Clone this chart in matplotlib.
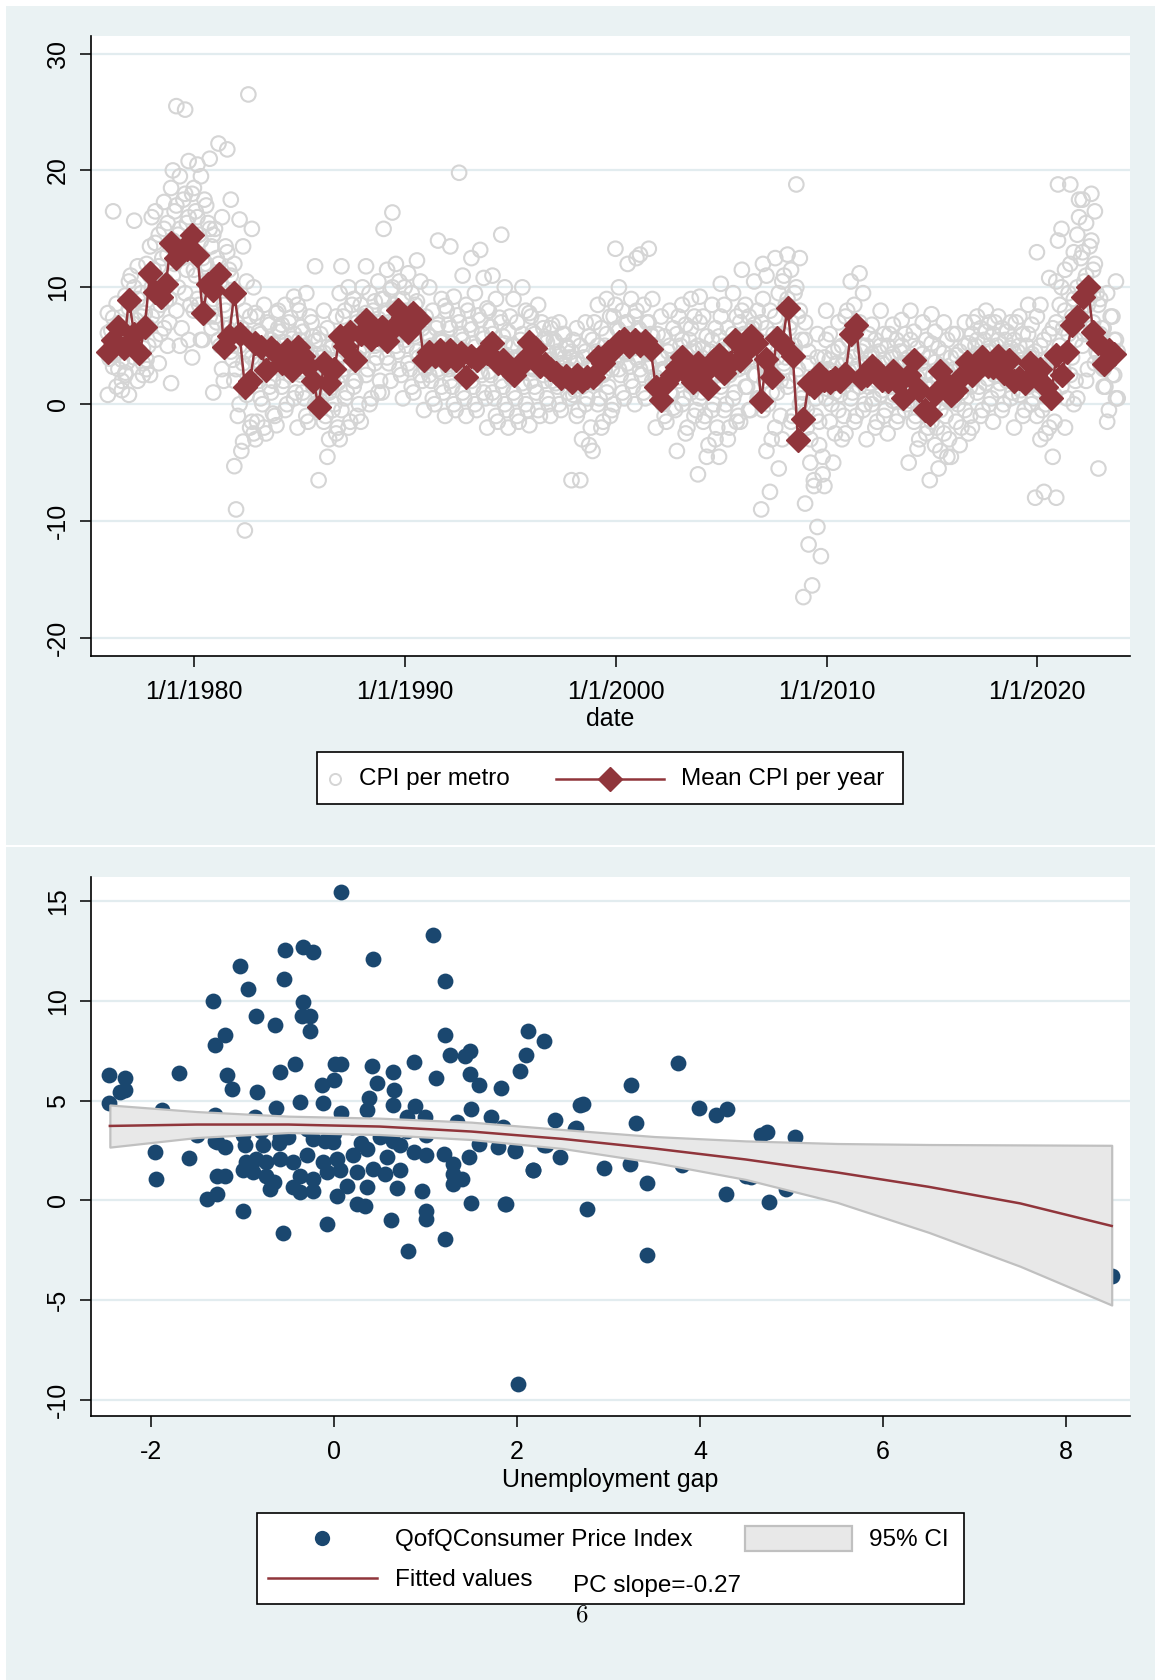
import numpy as np
import matplotlib
matplotlib.use('Agg')
import matplotlib.pyplot as plt
from matplotlib import font_manager
from matplotlib.patches import Rectangle

# fonts
names = {f.name for f in font_manager.fontManager.ttflist}
FAM = 'Liberation Sans Narrow' if 'Liberation Sans Narrow' in names else 'Liberation Sans'
FS = 21 if FAM == 'Liberation Sans Narrow' else 18
LFS = 21 if FAM == 'Liberation Sans Narrow' else 17.5
plt.rcParams['font.family'] = [FAM, 'DejaVu Sans']

BG = '#eaf2f3'
GRID = '#e2ecef'
CRAN = '#90353b'
NAVY = '#1a476f'
CIRC = '#d5d5d5'

# ---------------- top panel data: CPI per metro (by year) ----------------
metro_years = list(range(1976, 2024))
metro_cpi = [
    [0.8,1.5,2.5,3.2,3.8,4.2,4.6,5.0,5.4,5.8,6.3,7.0,7.8,8.6,9.3,16.5,2.0,4.4, 3.0,3.6,4.3,4.9,5.2,5.7,6.1,6.6,2.7,7.4,1.2,3.9],
    [0.8,2.0,3.0,4.0,4.8,5.5,6.0,6.6,7.2,7.8,8.6,9.5,10.5,11.8,12.0,15.7,3.5,6.2, 4.5,5.0,5.8,6.3,6.9,7.5,8.2,9.0,3.8,10.0,2.5,11.0],
    [2.5,3.5,5.0,5.5,6.5,7.5,8.5,9.0,9.8,10.5,11.5,12.5,13.5,14.5,15.5,16.5,17.3,10.0, 6.0,7.0,8.0,8.8,9.5,10.2,11.0,11.8,12.8,13.8,15.0,16.0],
    [1.8,5.0,5.5,8.0,9.5,11.0,12.5,13.5,14.5,15.5,16.5,17.5,18.5,19.5,20.8,25.5,25.2,14.0, 6.5,8.5,10.0,11.5,12.0,13.0,14.0,15.0,16.0,17.0,18.0,20.0],
    [4.0,5.5,7.5,9.0,10.5,11.5,12.5,13.5,14.5,15.5,16.5,17.5,18.0,19.5,21.0,20.5,12.0,8.0, 5.5,6.5,8.5,10.0,11.0,12.0,13.0,14.0,15.0,16.0,17.0,18.5],
    [1.0,3.0,4.5,5.5,6.5,7.5,8.5,9.5,10.5,11.5,12.5,13.5,14.5,16.0,17.5,22.3,21.8,10.0, 2.0,3.8,5.0,6.0,7.0,8.0,9.0,10.0,11.0,12.0,13.0,15.0],
    [-5.3,-3.2,-1.5,0.0,1.5,3.0,4.5,5.5,6.5,7.5,9.0,10.5,12.0,13.5,15.0,15.8,26.5,-9.0,-10.8,-2.5, -4.0,-2.0,-1.0,0.8,2.0,3.5,4.0,5.0,6.0,7.0,8.0,10.0],
    [-3.0,-2.0,-0.8,0.5,1.5,2.5,3.2,4.0,4.8,5.5,6.2,7.0,7.8,8.5,2.0,3.5,5.0,-1.5, -2.5,-1.0,0.0,1.0,2.0,3.0,3.6,4.4,5.2,6.0,6.8,7.5],
    [-1.8,-0.5,0.5,1.5,2.5,3.2,3.8,4.4,5.0,5.6,6.2,7.0,7.8,8.5,9.2,3.0,4.8,6.5, 0.0,1.0,2.0,2.8,3.5,4.1,4.7,5.3,6.0,6.8,7.4,8.0],
    [-2.0,-1.0,0.0,1.0,2.0,2.8,3.5,4.2,5.0,5.8,6.6,7.5,8.5,9.5,11.8,3.0,4.0,5.5, -1.5,-0.5,0.5,1.5,2.5,3.2,3.8,4.6,5.4,6.2,7.0,8.0],
    [-6.5,-4.5,-2.5,-1.5,-0.5,0.3,1.0,1.8,2.5,3.2,4.0,4.8,5.5,6.5,7.5,8.0,2.0,3.5, -3.0,-2.0,-1.0,0.0,0.7,1.4,2.2,2.8,3.6,4.4,5.0,6.0],
    [-3.0,-2.0,-1.0,0.5,1.5,2.5,3.5,4.5,5.5,6.5,7.5,8.5,9.5,10.0,4.0,6.0,2.0,-0.5, -1.5,0.0,1.0,2.0,3.0,4.0,5.0,6.0,7.0,8.0,9.0,11.8],
    [-1.5,0.0,1.0,2.5,3.5,4.5,5.5,6.0,6.5,7.0,7.5,8.0,8.5,9.5,10.5,11.8,5.0,7.0, 0.5,2.0,3.0,4.0,5.0,5.8,6.3,6.8,7.3,7.8,8.8,10.0],
    [1.0,2.0,3.0,4.0,5.0,5.5,6.0,6.5,7.0,7.5,8.0,8.5,9.0,9.8,10.5,11.5,12.0,15.0,16.4, 2.5,3.5,4.5,5.2,5.8,6.2,6.8,7.2,7.8,8.2,9.0,10.0],
    [0.5,1.5,2.5,3.5,4.5,5.5,6.0,6.5,7.0,7.5,8.0,8.5,9.0,9.5,10.5,11.2,12.3,6.0, 1.0,2.0,3.0,4.0,5.0,5.8,6.3,6.8,7.3,7.8,8.8,10.0],
    [-0.5,0.5,1.5,2.5,3.0,3.5,4.0,4.5,5.0,5.5,6.0,6.5,7.0,8.0,9.0,10.0,14.0,3.0, 0.0,1.0,2.0,2.8,3.3,3.8,4.3,4.8,5.3,5.8,6.8,7.5],
    [-1.0,0.0,1.0,2.0,2.8,3.4,4.0,4.6,5.2,6.0,6.8,7.6,8.4,9.2,11.0,13.5,19.8,3.8, -0.5,0.5,1.5,2.5,3.0,3.6,4.2,4.8,5.5,6.5,7.0,8.0],
    [-1.0,0.0,1.0,2.0,2.8,3.4,4.0,4.6,5.2,6.0,6.8,7.6,8.5,9.5,10.8,12.5,13.2,4.2, -0.5,0.5,1.5,2.5,3.0,3.6,4.3,4.9,5.6,6.4,7.2,8.0],
    [-2.0,-1.0,0.0,1.0,2.0,2.8,3.5,4.2,5.0,5.8,6.6,7.4,8.2,9.0,10.0,11.0,14.5,3.8, -1.5,-0.5,0.5,1.5,2.5,3.2,3.8,4.5,5.2,6.0,7.0,8.0],
    [-2.0,-1.0,0.0,1.0,1.8,2.5,3.0,3.5,4.0,4.5,5.0,5.5,6.2,7.0,8.0,9.0,10.0,3.0, -1.5,-0.5,0.5,1.5,2.2,2.8,3.3,3.8,4.3,5.0,6.0,7.5],
    [-1.8,-0.5,0.5,1.5,2.5,3.2,3.8,4.4,5.0,5.6,6.2,7.0,7.8,8.5,4.5,3.0,5.5,2.0, -1.0,0.0,1.0,2.0,3.0,3.5,4.0,4.8,5.3,6.0,6.5,7.5],
    [-1.0,0.0,1.0,1.8,2.4,3.0,3.5,4.0,4.5,5.0,5.5,6.0,6.5,7.0,3.0,2.5,4.0,2.0, -0.5,0.5,1.5,2.2,2.8,3.3,3.8,4.3,4.8,5.3,6.0,6.8],
    [-6.5,-6.5,-3.5,-1.0,0.0,0.8,1.5,2.0,2.5,3.0,3.5,4.0,4.5,5.0,5.8,6.5,7.0,2.2, -3.0,-2.0,-0.5,0.5,1.2,1.8,2.3,2.8,3.3,3.8,4.5,5.5],
    [-4.0,-2.0,-1.0,0.0,1.0,1.8,2.5,3.0,3.5,4.0,4.5,5.0,5.5,6.5,7.5,8.5,9.0,3.2, -1.5,-0.5,0.5,1.5,2.2,2.8,3.3,3.8,4.3,5.0,6.0,7.0],
    [0.0,1.0,2.0,3.0,3.5,4.0,4.5,5.0,5.5,6.0,6.5,7.0,7.5,8.0,9.0,10.0,12.0,13.3, 0.5,1.5,2.5,3.2,3.8,4.3,4.8,5.3,5.8,6.3,7.0,8.5],
    [0.0,1.0,2.0,3.0,3.5,4.0,4.5,5.0,5.5,6.0,6.5,7.0,7.5,8.5,9.0,12.8,13.3,12.5, 0.5,1.5,2.5,3.2,3.8,4.3,4.8,5.3,5.8,6.3,7.0,8.0],
    [-2.0,-1.0,-0.3,0.5,1.0,1.5,2.0,2.5,3.0,3.5,4.0,4.5,5.0,5.8,6.5,7.5,8.0,2.0, -1.5,-0.5,0.0,0.8,1.3,1.8,2.3,2.8,3.3,4.0,5.0,6.0],
    [-4.0,-2.5,-1.0,0.0,1.0,2.0,2.8,3.5,4.0,4.5,5.0,5.5,6.0,6.8,7.5,8.5,9.0,3.0, -2.0,-0.5,0.5,1.5,2.3,3.0,3.8,4.3,4.8,5.5,6.5,7.5],
    [-6.0,-4.5,-3.0,-1.5,-0.5,0.5,1.5,2.5,3.0,3.5,4.0,4.5,5.0,5.8,6.5,7.5,8.5,9.2, -3.5,-2.0,-1.0,0.0,1.0,2.0,2.8,3.3,4.0,4.8,5.5,7.0],
    [-4.5,-3.0,-1.5,-0.5,0.5,1.5,2.5,3.0,3.5,4.0,4.5,5.0,5.8,6.5,7.5,8.5,9.5,10.3, -2.0,-1.0,0.0,1.0,2.0,2.8,3.3,3.8,4.3,5.0,6.0,7.5],
    [-1.5,-0.5,0.5,1.5,2.5,3.5,4.0,4.5,5.0,5.5,6.0,6.5,7.0,7.5,8.0,8.5,10.5,11.5, -0.5,0.5,1.5,2.5,3.2,3.8,4.3,4.8,5.3,5.8,6.8,8.0],
    [-9.0,-7.5,-5.5,-4.0,-2.0,-0.5,1.0,2.0,3.0,4.0,5.0,6.0,7.0,8.0,9.5,11.0,12.5,12.0, -3.0,-1.0,0.0,1.0,2.0,2.5,3.5,4.5,5.5,6.5,7.5,9.0],
    [-3.0,-1.5,0.0,1.5,2.5,3.5,4.5,5.5,6.5,7.5,8.5,9.5,10.5,11.5,12.5,12.8,18.8,5.0, -1.0,0.5,2.0,3.0,4.0,5.0,6.0,7.0,8.0,9.0,10.0,11.0],
    [-16.5,-15.5,-13.0,-12.0,-10.5,-8.5,-7.0,-6.0,-5.0,-3.5,-2.0,-1.0,0.0,1.5,3.0,4.5,6.0,7.0, -6.5,-4.5,-3.0,-1.5,-0.5,0.5,1.0,2.0,2.5,3.5,4.0,5.5],
    [-7.0,-5.0,-3.0,-1.5,-0.5,0.5,1.0,1.5,2.0,2.5,3.0,3.5,4.0,4.5,5.0,6.0,7.0,8.0, -2.5,-1.0,0.0,0.8,1.3,1.8,2.3,2.8,3.3,3.8,4.8,5.5],
    [-2.5,-1.5,-0.5,0.5,1.5,2.5,3.0,3.5,4.0,4.5,5.5,6.5,7.5,8.5,9.5,10.5,11.2,2.0, -1.0,0.0,1.0,2.0,2.8,3.3,3.8,4.5,5.0,6.0,7.0,8.0],
    [-3.0,-2.0,-1.0,0.0,0.8,1.5,2.0,2.5,3.0,3.5,4.0,4.5,5.0,5.5,6.0,6.8,8.0,2.5, -1.5,-0.5,0.5,1.2,1.8,2.3,2.8,3.3,3.8,4.3,5.0,6.0],
    [-2.5,-1.5,-0.5,0.3,1.0,1.5,2.0,2.5,3.0,3.5,4.0,4.5,5.0,5.5,6.0,6.8,7.2,2.2, -1.0,0.0,0.8,1.3,1.8,2.3,2.8,3.3,3.8,4.3,5.0,6.0],
    [-5.0,-3.8,-2.5,-1.5,-0.5,0.3,1.0,1.5,2.0,2.5,3.0,3.5,4.0,4.8,5.5,6.2,7.0,8.0, -3.0,-2.0,-1.0,0.0,0.8,1.3,1.8,2.3,2.8,3.5,4.3,5.5],
    [-6.5,-5.5,-4.5,-3.5,-2.5,-1.5,-0.5,0.3,1.0,1.8,2.5,3.2,4.0,4.8,5.5,6.2,7.0,7.7, -4.0,-3.0,-2.0,-1.0,0.0,0.6,1.3,2.0,2.8,3.6,4.4,5.2],
    [-4.5,-3.5,-2.5,-1.5,-0.5,0.3,1.0,1.5,2.0,2.5,3.0,3.5,4.0,4.5,5.2,6.0,7.0,2.2, -2.0,-1.0,0.0,0.6,1.2,1.8,2.4,3.0,3.6,4.2,5.0,6.0],
    [-2.0,-1.0,0.0,1.0,1.8,2.5,3.0,3.5,4.0,4.5,5.0,5.5,6.0,6.5,7.0,7.5,8.0,3.3, -0.5,0.5,1.5,2.2,2.8,3.3,3.8,4.3,4.8,5.5,6.2,7.0],
    [-1.5,-0.5,0.5,1.2,2.0,2.5,3.0,3.5,4.0,4.5,5.0,5.5,6.0,6.5,7.0,7.5,4.0,3.0, 0.0,1.0,1.8,2.3,2.8,3.3,3.8,4.3,4.8,5.5,6.2,7.0],
    [-2.0,-1.0,0.0,0.8,1.5,2.0,2.5,3.0,3.5,4.0,4.5,5.0,5.5,6.0,6.8,7.5,8.5,2.2, -0.5,0.5,1.2,1.8,2.3,2.8,3.3,3.8,4.3,5.0,6.0,7.0],
    [-8.0,-7.5,-4.5,-3.0,-2.0,-1.0,0.0,0.8,1.5,2.2,3.0,3.8,4.5,5.5,6.5,8.5,10.8,13.0, -2.5,-1.5,-0.5,0.5,1.2,2.0,2.6,3.3,4.0,5.0,6.0,7.5],
    [-8.0,-2.0,0.0,1.5,2.5,3.5,4.5,5.5,6.5,7.5,8.5,9.5,10.5,11.5,13.0,15.0,18.8,18.8, 0.5,2.0,3.0,4.0,5.0,6.0,7.0,8.0,9.0,10.0,12.0,14.0],
    [0.5,2.0,3.5,5.0,6.5,7.5,8.5,9.5,10.5,11.5,12.5,13.5,14.5,15.5,16.5,17.5,18.0,17.5, 3.0,4.5,6.0,7.0,8.0,9.0,10.0,11.0,12.0,13.0,14.0,16.0],
    [-5.5,-1.5,0.5,1.5,2.5,3.5,4.0,4.5,5.0,5.5,6.5,7.5,8.5,9.5,10.5,3.0,4.5,6.0, -0.5,0.5,1.5,2.5,3.2,3.8,4.3,4.8,5.5,6.5,7.5,9.0],
]

# mean CPI, four readings per year 1976..2023
mean_cpi = [
    4.5, 5.5, 6.6, 4.8,   8.9, 6.0, 4.35, 6.6,   11.2, 9.6, 9.2, 10.3,   13.8, 12.5, 13.2, 13.3,
    14.5, 12.8, 7.8, 10.3,   9.8, 11.1, 4.9, 5.8,   9.5, 6.0, 1.5, 2.0,   5.2, 4.9, 2.9, 4.8,
    4.4, 3.5, 4.6, 2.9,   4.9, 4.1, 3.3, 2.0,   -0.2, 3.5, 1.8, 3.0,   5.8, 5.0, 6.2, 3.78,
    6.0, 7.2, 5.6, 6.0,   6.6, 5.4, 6.4, 8.05,   7.5, 6.2, 7.8, 7.3,   3.78, 4.5, 4.1, 4.6,
    3.8, 4.6, 3.8, 4.4,   2.35, 4.1, 3.8, 4.2,   4.4, 5.2, 3.5, 3.8,   3.0, 2.5, 3.2, 3.8,
    5.3, 4.8, 3.3, 3.4,   3.0, 2.7, 2.2, 2.4,   1.9, 2.5, 2.0, 2.3,   2.3, 4.0, 3.5, 4.5,
    4.7, 5.3, 5.6, 5.0,   5.5, 5.1, 5.4, 4.7,   1.5, 0.4, 1.8, 2.5,   3.2, 4.0, 2.6, 1.9,
    3.5, 2.6, 1.4, 3.8,   4.2, 2.7, 3.5, 5.5,   3.8, 4.5, 5.8, 5.2,   0.3, 3.9, 2.3, 5.7,
    5.2, 8.2, 4.1, -3.1,   -1.3, 1.8, 1.5, 2.6,   2.1, 1.9, 2.2, 2.0,   2.6, 6.0, 6.8, 2.2,
    2.5, 3.3, 2.8, 2.1,   2.0, 2.8, 1.8, 0.5,   2.5, 3.8, 1.2, -0.5,   -0.8, 0.9, 2.8, 1.8,
    0.8, 1.2, 2.3, 3.6,   2.5, 3.0, 4.0, 3.3,   3.2, 4.1, 2.7, 3.8,   2.0, 2.2, 1.8, 3.5,
    2.5, 3.0, 1.5, 0.5,   4.2, 2.5, 4.5, 6.8,   7.5, 9.2, 10.0, 6.2,   5.2, 3.4, 4.6, 4.3,
]

top_xticks = [1980, 1990, 2000, 2010, 2020]
top_xticklabels = ['1/1/1980', '1/1/1990', '1/1/2000', '1/1/2010', '1/1/2020']
top_yticks = [-20, -10, 0, 10, 20, 30]

# ---------------- bottom panel data ----------------
gap = [0.08, 1.08, -0.54, -0.34, -0.23, 0.43, -1.03, -0.55, -0.94, 1.21, -1.32, -0.34,
       -0.26, -0.85, -0.65, -0.35, -0.26, 1.21, 2.12, 2.30, -1.19, -1.30, 1.27, 1.49,
       1.43, 2.10, 2.03, -2.46, -2.28, -1.69, -1.17, -0.59, -0.43, 0.01, 0.08, 0.42,
       0.64, 0.87, 1.11, 1.49, 1.58, 1.82, -2.28, -2.34, -1.11, -0.84, -0.13, 0.0,
       0.47, 0.66, -2.46, 0.38, 0.65, -0.12, 0.89, -0.37, 1.50, 1.72, 2.42, 2.69,
       -0.63, -1.88, -1.30, -0.86, 0.08, 0.36, 0.80, 0.99, 1.34, 1.85, 2.63,
       -1.96, -1.59, -1.28, -1.19, -1.50, -2.01, -0.97, -0.78, -0.59, -0.23, -0.01,
       0.36, 0.58, 0.72, 1.01, 1.20, 1.48, 1.59, 1.79, 1.98, 2.32, 2.47,
       -0.96, -0.85, -0.74, -0.59, -0.45, -0.30, -0.12, 0.03, 0.21, 0.43, 0.87, 1.30,
       -0.99, -0.88, -0.74, -0.66, -0.37, -0.23, -0.08, 0.07, 0.25, 0.56, 0.72, 1.30,
       1.40, 2.18, -1.28, -1.19, -1.95, -0.70, -0.45, -0.37, -0.23, 0.03, 0.14, 0.36,
       0.69, 0.96, 1.30, 1.50, 1.87, -1.39, -1.28, 0.25, 0.34, 1.01, 1.01, -0.99,
       -0.08, 0.62, -0.56, 0.81, 1.21,
       3.76, 3.25, 2.72, 3.99, 4.18, 4.30, 4.67, 4.73, 5.04, 3.30, 2.65, 1.98, 2.18,
       2.95, 3.23, 3.42, 3.80, 4.56, 4.94, 4.28, 4.75, 1.88, 2.76, 3.42, 2.01, 8.50,
       2.30, -1.92, -1.0, -0.8, -0.5, -0.3, 0.0, 0.2, 0.5, 0.8, 1.0, 1.3, 1.6, -1.3,
       -0.1, 0.3, 0.65, -0.6, 4.5]
cpi = [15.47, 13.28, 12.52, 12.69, 12.44, 12.10, 11.73, 11.09, 10.58, 11.0, 10.0, 9.95,
       9.24, 9.24, 8.78, 9.24, 8.48, 8.28, 8.48, 7.98, 8.31, 7.80, 7.30, 7.47,
       7.25, 7.30, 6.46, 6.29, 6.12, 6.38, 6.26, 6.43, 6.83, 6.85, 6.85, 6.75,
       6.43, 6.93, 6.12, 6.34, 5.79, 5.65, 5.53, 5.42, 5.59, 5.42, 5.79, 6.02,
       5.87, 5.55, 4.90, 5.15, 4.78, 4.90, 4.74, 4.91, 4.57, 4.19, 4.02, 4.78,
       4.61, 4.52, 4.27, 4.19, 4.39, 4.51, 4.19, 4.19, 3.94, 3.68, 3.60,
       2.42, 2.12, 2.93, 2.67, 3.26, 3.26, 2.76, 2.76, 3.18, 3.09, 2.93,
       2.59, 2.17, 2.76, 2.25, 2.34, 2.17, 2.84, 2.67, 2.45, 2.76, 2.17,
       1.92, 2.08, 1.92, 2.08, 1.92, 2.25, 1.92, 2.08, 2.25, 1.58, 2.42, 1.83,
       1.50, 1.41, 1.24, 0.91, 1.24, 1.07, 1.41, 1.50, 1.41, 1.33, 1.50, 1.33,
       1.07, 1.50, 1.24, 1.24, 1.07, 0.57, 0.65, 0.40, 0.48, 0.23, 0.74, 0.65,
       0.60, 0.48, 0.82, -0.11, -0.19, 0.06, 0.32, -0.19, -0.27, -0.53, -0.95, -0.53,
       -1.20, -0.98, -1.62, -2.55, -1.92,
       6.88, 5.76, 4.81, 4.61, 4.27, 4.56, 3.30, 3.43, 3.18, 3.90, 3.63, 2.50, 1.50,
       1.63, 1.83, 0.87, 1.75, 1.16, 0.57, 0.30, -0.10, -0.19, -0.41, -2.73, -9.19, -3.80,
       2.76, 4.30, 3.3, 3.5, 3.2, 3.6, 3.4, 3.7, 3.2, 3.5, 3.3, 3.6, 3.2, 3.0,
       3.0, 2.9, 3.0, 2.9, 1.2]

fit_x = [-2.45, -1.5, -0.5, 0.5, 1.5, 2.5, 3.5, 4.5, 5.5, 6.5, 7.5, 8.5]
fit_y = [3.73, 3.80, 3.80, 3.70, 3.45, 3.08, 2.60, 2.05, 1.40, 0.68, -0.15, -1.28]
ci_hi = [4.78, 4.45, 4.22, 4.12, 3.92, 3.55, 3.20, 2.98, 2.85, 2.80, 2.78, 2.76]
ci_lo = [2.67, 3.15, 3.40, 3.30, 3.05, 2.60, 1.90, 1.05, -0.10, -1.60, -3.30, -5.24]

bot_xticks = [-2, 0, 2, 4, 6, 8]
bot_yticks = [-10, -5, 0, 5, 10, 15]

# ---------------- figure ----------------
W, H = 1155, 1680
fig = plt.figure(figsize=(W / 100, H / 100), dpi=100, facecolor='white')

bg = fig.add_axes([0, 0, 1, 1], zorder=-10)
bg.set_xlim(0, W)
bg.set_ylim(H, 0)
bg.axis('off')
bg.add_patch(Rectangle((6, 6), W - 6, 839, facecolor=BG, edgecolor='none'))
bg.add_patch(Rectangle((6, 847), W - 6, H - 847, facecolor=BG, edgecolor='none'))


def px_axes(x0, y0, x1, y1):
    return fig.add_axes([x0 / W, 1 - y1 / H, (x1 - x0) / W, (y1 - y0) / H])


def style(ax):
    ax.set_facecolor('white')
    for s in ['top', 'right']:
        ax.spines[s].set_visible(False)
    for s in ['left', 'bottom']:
        ax.spines[s].set_linewidth(1.2)
        ax.spines[s].set_color('black')
    ax.grid(axis='y', color=GRID, linewidth=1.6)
    ax.set_axisbelow(True)
    ax.tick_params(direction='out', length=8, width=1.1, labelsize=FS)
    ax.tick_params(axis='x', pad=9)
    ax.tick_params(axis='y', pad=7)
    for lab in ax.get_yticklabels():
        lab.set_rotation(90)
        lab.set_va('center')


# top panel
ax1 = px_axes(91, 36, 1130, 656)
mx, my = [], []
for yr, vals in zip(metro_years, metro_cpi):
    for i, v in enumerate(vals):
        mx.append(yr - 0.1 + ((i * 5) % 12) / 12)
        my.append(v)
ax1.scatter(mx, my, s=110, facecolors='none', edgecolors=CIRC, linewidths=1.5, zorder=2)
dates = 1975.9 + np.arange(len(mean_cpi)) * 0.25
ax1.plot(dates, mean_cpi, color=CRAN, lw=1.8, marker='D', ms=12.5, mec=CRAN, mfc=CRAN, zorder=3)
ax1.set_xlim(1975.1, 2024.4)
ax1.set_ylim(-21.54, 31.5)
ax1.set_xticks(top_xticks)
ax1.set_xticklabels(top_xticklabels)
ax1.set_yticks(top_yticks)
ax1.set_yticklabels([str(t) for t in top_yticks])
style(ax1)
ax1.set_xlabel('date', fontsize=FS)
ax1.xaxis.set_label_coords(0.5, -0.1016)
ax1.xaxis.label.set_va('center')

# bottom panel
ax2 = px_axes(91, 877, 1130, 1416)
ax2.scatter(gap, cpi, s=130, color=NAVY, linewidths=0, zorder=2)
ax2.fill_between(fit_x, ci_lo, ci_hi, facecolor='#e8e8e8', edgecolor='#c0c0c0', lw=1.6, zorder=3)
ax2.plot(fit_x, fit_y, color=CRAN, lw=1.8, zorder=4)
ax2.set_xlim(-2.656, 8.70)
ax2.set_ylim(-10.8, 16.2)
ax2.set_xticks(bot_xticks)
ax2.set_xticklabels([str(t) for t in bot_xticks])
ax2.set_yticks(bot_yticks)
ax2.set_yticklabels([str(t) for t in bot_yticks])
style(ax2)
ax2.set_xlabel('Unemployment gap', fontsize=FS)
ax2.xaxis.set_label_coords(0.5, -0.1187)
ax2.xaxis.label.set_va('center')

# legends (drawn in pixel space)
ov = fig.add_axes([0, 0, 1, 1], zorder=10)
ov.set_xlim(0, W)
ov.set_ylim(H, 0)
ov.axis('off')
ov.patch.set_alpha(0)

ov.add_patch(Rectangle((317, 752), 586, 52, facecolor='white', edgecolor='black', lw=1.2))
ov.plot([335], [779], marker='o', ms=8, mfc='none', mec=CIRC, mew=1.4)
ov.text(359, 779, 'CPI per metro', fontsize=LFS, va='center', ha='left')
ov.plot([556, 664], [779, 779], color=CRAN, lw=1.8)
ov.plot([610], [779], marker='D', ms=12, color=CRAN)
ov.text(681, 779, 'Mean CPI per year', fontsize=LFS, va='center', ha='left')

ov.add_patch(Rectangle((257, 1513), 707, 91, facecolor='white', edgecolor='black', lw=1.2))
ov.plot([322], [1538], marker='o', ms=11, color=NAVY, mew=0)
ov.text(395, 1540, 'QofQConsumer Price Index', fontsize=LFS, va='center', ha='left')
ov.add_patch(Rectangle((745, 1526), 107, 25, facecolor='#e8e8e8', edgecolor='#c0c0c0', lw=1.6))
ov.text(869, 1540, '95% CI', fontsize=LFS, va='center', ha='left')
ov.plot([268, 377], [1578, 1578], color=CRAN, lw=1.8)
ov.text(395, 1580, 'Fitted values', fontsize=LFS, va='center', ha='left')
ov.text(573, 1586, 'PC slope=-0.27', fontsize=LFS, va='center', ha='left')

ov.text(582, 1615, '6', fontsize=18, family='cmr10', va='center', ha='center')

fig.savefig('out.png', dpi=100, facecolor='white')
